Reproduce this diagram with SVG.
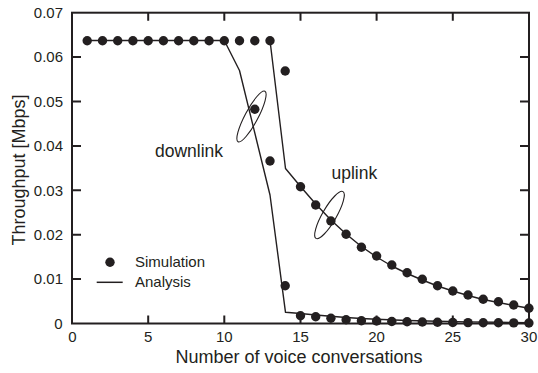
<svg xmlns="http://www.w3.org/2000/svg" width="538" height="373" viewBox="0 0 538 373">
<style>
text{font-family:"Liberation Sans",Arial,sans-serif;fill:#231f20}
.tk{font-size:15px}
.ttl{font-size:18px}
.lbl{font-size:17.5px}
.leg{font-size:15px}
.ax{fill:none;stroke:#231f20;stroke-width:2}
.an{fill:none;stroke:#231f20;stroke-width:1.4;stroke-linejoin:round}
.loop{fill:none;stroke:#231f20;stroke-width:1.1}
</style>
<defs>
<circle id="d" r="4.7" fill="#231f20"/>
</defs>
<rect width="538" height="373" fill="#fff"/>
<g id="axes">
<rect class="ax" x="72" y="12.7" width="457" height="310.8"/>
<path class="ax" d="M72 279.1h9M72 234.7h9M72 190.3h9M72 145.9h9M72 101.5h9M72 57.1h9M529 279.1h-9M529 234.7h-9M529 190.3h-9M529 145.9h-9M529 101.5h-9M529 57.1h-9M148.2 323.5v-8M224.3 323.5v-8M300.5 323.5v-8M376.6 323.5v-8M452.8 323.5v-8M148.2 12.7v8M224.3 12.7v8M300.5 12.7v8M376.6 12.7v8M452.8 12.7v8"/>
<g class="tk" text-anchor="end">
<text x="62.5" y="328.8">0</text>
<text x="63" y="284.4">0.01</text>
<text x="63" y="240">0.02</text>
<text x="63" y="195.6">0.03</text>
<text x="63" y="151.2">0.04</text>
<text x="63" y="106.8">0.05</text>
<text x="63" y="62.4">0.06</text>
<text x="63" y="18">0.07</text>
</g>
<g class="tk" text-anchor="middle">
<text x="72.5" y="342">0</text>
<text x="148.2" y="342">5</text>
<text x="224.3" y="342">10</text>
<text x="300.5" y="342">15</text>
<text x="376.6" y="342">20</text>
<text x="452.8" y="342">25</text>
<text x="528.9" y="342">30</text>
</g>
<text class="ttl" x="299" y="363" text-anchor="middle">Number of voice conversations</text>
<text class="ttl" transform="translate(25,170) rotate(-90)" text-anchor="middle">Throughput [Mbps]</text>
</g>
<g id="connectors">
<path id="downlink-analysis" class="an" d="M87.2 40.5H224.3L239.5 70.5L270 195L285.5 312.3L300.5 313.5L315.7 315L330.9 316.3L346.1 317.5L361.4 318.5L376.6 319.3L407.1 320.5L437.5 321.3L468 321.9L498.4 322.3L528.9 322.7"/>
<path id="uplink-analysis" class="an" d="M270 40.5L285.5 168.5L300.5 186.5L315.7 204L330.9 220L346.1 234L361.4 246.5L376.6 257L391.8 266L407.1 273.5L422.3 280L437.5 286L452.8 291L468 295.5L483.2 299.5L498.4 302.5L513.7 305.5L528.9 308.3"/>
<ellipse class="loop" cx="251.5" cy="116.5" rx="28.6" ry="6.5" transform="rotate(-62 251.5 116.5)"/>
<ellipse class="loop" cx="329.5" cy="215" rx="27" ry="7" transform="rotate(-60 329.5 215)"/>
</g>
<g id="simulation-common">
<use href="#d" x="87.2" y="40.7"/><use href="#d" x="102.5" y="40.7"/><use href="#d" x="117.7" y="40.7"/><use href="#d" x="132.9" y="40.7"/><use href="#d" x="148.2" y="40.7"/><use href="#d" x="163.4" y="40.7"/><use href="#d" x="178.6" y="40.7"/><use href="#d" x="193.8" y="40.7"/><use href="#d" x="209.1" y="40.7"/><use href="#d" x="224.3" y="40.7"/><use href="#d" x="239.5" y="40.7"/><use href="#d" x="254.8" y="40.7"/><use href="#d" x="270" y="40.7"/>
</g>
<g id="simulation-downlink">
<use href="#d" x="254.8" y="109.3"/><use href="#d" x="270" y="161"/><use href="#d" x="285.2" y="285.7"/><use href="#d" x="300.5" y="315.7"/><use href="#d" x="315.7" y="316.7"/><use href="#d" x="330.9" y="318.3"/><use href="#d" x="346.1" y="319.7"/><use href="#d" x="361.4" y="320.7"/><use href="#d" x="376.6" y="321"/><use href="#d" x="391.8" y="321.5"/><use href="#d" x="407.1" y="321.7"/><use href="#d" x="422.3" y="322"/><use href="#d" x="437.5" y="322.2"/><use href="#d" x="452.8" y="322.5"/><use href="#d" x="468" y="322.6"/><use href="#d" x="483.2" y="322.7"/><use href="#d" x="498.4" y="322.8"/><use href="#d" x="513.7" y="322.9"/><use href="#d" x="528.9" y="323"/>
</g>
<g id="simulation-uplink">
<use href="#d" x="285.2" y="71"/><use href="#d" x="300.5" y="186.7"/><use href="#d" x="315.7" y="205"/><use href="#d" x="330.9" y="221"/><use href="#d" x="346.1" y="234.3"/><use href="#d" x="361.4" y="247.3"/><use href="#d" x="376.6" y="256"/><use href="#d" x="391.8" y="265"/><use href="#d" x="407.1" y="272.7"/><use href="#d" x="422.3" y="279.3"/><use href="#d" x="437.5" y="285.7"/><use href="#d" x="452.8" y="291"/><use href="#d" x="468" y="295"/><use href="#d" x="483.2" y="299.3"/><use href="#d" x="498.4" y="301.7"/><use href="#d" x="513.7" y="305"/><use href="#d" x="528.9" y="308.3"/>
</g>
<g id="label-downlink"><text class="lbl" x="155" y="156.7">downlink</text></g>
<g id="label-uplink"><text class="lbl" x="331.5" y="179.3">uplink</text></g>
<g id="legend">
<use href="#d" x="110" y="262.3"/>
<text class="leg" x="135" y="266.5">Simulation</text>
<path d="M96.7 282.3H122.7" stroke="#231f20" stroke-width="1.5"/>
<text class="leg" x="135" y="287">Analysis</text>
</g>
</svg>
